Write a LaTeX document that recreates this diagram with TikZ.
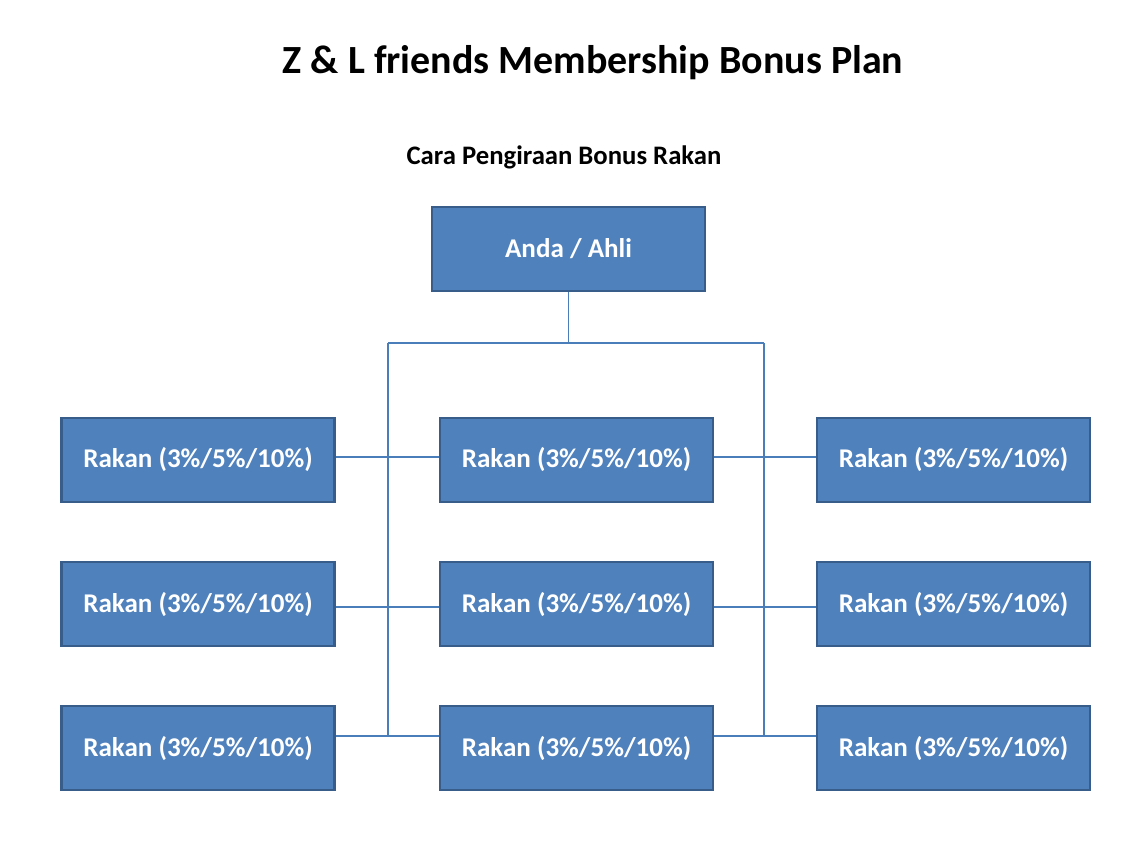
\documentclass[tikz,border=0pt]{standalone}
\usepackage{fontspec}
\setmainfont{Carlito}
\definecolor{boxfill}{HTML}{4F81BD}
\definecolor{boxline}{HTML}{385D8A}
\definecolor{linkcol}{HTML}{4A7EBB}
\def\rakan{Rakan (3\%/5\%/10\%)}
\begin{document}
\begin{tikzpicture}[x=0.02cm,y=-0.02cm,
  member/.style={draw=boxline,line width=1.6pt,fill=boxfill,text=white,
    font=\fontsize{15.4}{18}\selectfont\bfseries,
    minimum width=5.46cm,minimum height=1.68cm,inner sep=0pt},
  link/.style={draw=linkcol,line width=0.7pt}]
  \useasboundingbox (0,0) rectangle (1136,852);

  \node (title) at (593,63) {\fontsize{22.75}{27}\selectfont\bfseries Z \& L friends Membership Bonus Plan};
  \node (sub) at (564,157) {\fontsize{15.2}{18}\selectfont\bfseries Cara Pengiraan Bonus Rakan};

  \node[member] (top) at (568.5,249) {Anda / Ahli};
  \foreach \r/\y in {1/460,2/604,3/748} {
    \node[member] (l\r) at (198,\y)   {\rakan};
    \node[member] (m\r) at (576.5,\y) {\rakan};
    \node[member] (r\r) at (953.5,\y) {\rakan};
  }

  \coordinate (jl) at (388,343);
  \coordinate (jr) at (764,343);
  \coordinate (el) at (388,736);
  \coordinate (er) at (764,736);
  \draw[link] (top.south) -- (top.south |- jl);
  \draw[link] (jl) -- (jr);
  \draw[link] (jl) -- (el);
  \draw[link] (jr) -- (er);
  \foreach \r/\s in {1/0.06,2/-0.06,3/0.24} {
    \draw[link] ([yshift=\s cm]l\r.east) -- ([yshift=\s cm]m\r.west);
    \draw[link] ([yshift=\s cm]m\r.east) -- ([yshift=\s cm]r\r.west);
  }
\end{tikzpicture}
\end{document}
